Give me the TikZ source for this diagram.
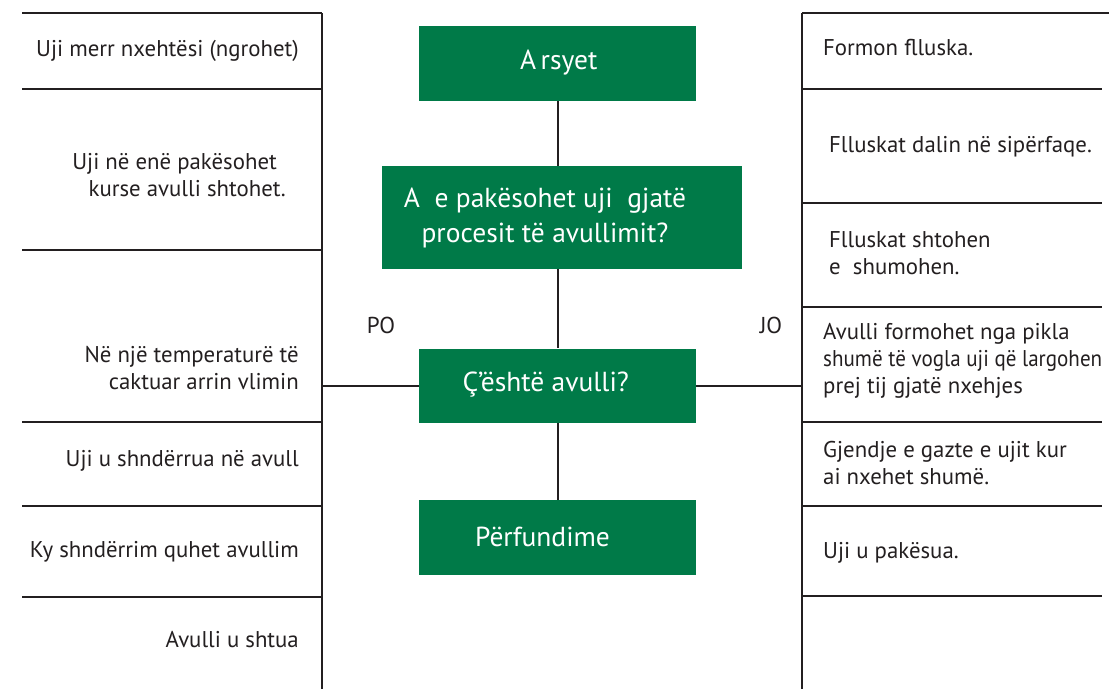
\documentclass[tikz,border=0pt]{standalone}
\usepackage{fontspec}
\usepackage{graphicx}
\setmainfont{PT Sans}
\definecolor{boxgreen}{RGB}{0,122,72}
\definecolor{ink}{RGB}{35,31,32}
\begin{document}
\begin{tikzpicture}[x=1pt,y=-1pt,
  rule/.style={draw=ink, line width=2pt},
  link/.style={draw=ink, line width=2pt},
  gbox/.style={fill=boxgreen, draw=none, inner sep=0pt},
  wtext/.style={text=white, inner sep=0pt, align=center, font=\fontsize{27.5}{35}\selectfont},
  ltext/.style={anchor=east, align=right, inner sep=0pt, text=ink, font=\fontsize{22.8}{26.8}\selectfont},
  rtext/.style={anchor=west, align=left, inner sep=0pt, text=ink, font=\fontsize{22.8}{26.8}\selectfont},
  ptext/.style={inner sep=0pt, text=ink, font=\fontsize{23}{26}\selectfont}]
\useasboundingbox (0,0) rectangle (1109,689);

% left column rules
\coordinate (lcol) at (322,0);
\draw[rule] (322,13) -- (322,689);
\foreach \yy in {13,89,250,422,506,597}
  \draw[rule] (22,\yy) -- (322,\yy);

% right column rules
\coordinate (rcol) at (802,0);
\draw[rule] (802,13) -- (802,689);
\draw[rule] (802,13) -- (1109,13);
\foreach \yy in {89,203,307,422,506,596}
  \draw[rule] (802,\yy) -- (1102,\yy);

% central flow boxes
\node[gbox, minimum width=277pt, minimum height=75pt] (b1) at (557.3,63.3) {};
\node[gbox, minimum width=360pt, minimum height=103pt] (b2) at (561.8,217.7) {};
\node[gbox, minimum width=277pt, minimum height=74pt] (b3) at (557.3,385.5) {};
\node[gbox, minimum width=277pt, minimum height=75pt] (b4) at (557.3,537.5) {};

\node[wtext] (t1) at (558.7,63) {A\,rsyet};
\node[wtext] (t2) at (545,218) {A\ \ e pakësohet uji\ \ gjatë\\procesit të avullimit?};
\node[wtext] (t3) at (545.7,385) {Ç’është avulli?};
\node[wtext] (t4) at (542.5,537) {Përfundime};

% connectors
\draw[link] (b1.south -| 558.3,0) -- (b2.north -| 558.3,0);
\draw[link] (b2.south -| 558.3,0) -- (b3.north -| 558.3,0);
\draw[link] (b3.south -| 558.3,0) -- (b4.north -| 558.3,0);
\draw[link] (b3.west) -- (b3.west -| lcol);
\draw[link] (b3.east) -- (b3.east -| rcol);

\node[ptext] (po) at (381,325) {PO};
\node[ptext] (jo) at (771,325) {JO};

% left column texts
\node[ltext] (l1) at (299,51) {Uji merr nxehtësi (ngrohet)};
\node[ltext] (l2) at (286,175) {Uji në enë pakësohet\hspace*{9pt}\\kurse avulli shtohet.};
\node[ltext] (l3) at (299,368) {Në një temperaturë të\\caktuar arrin vlimin};
\node[ltext] (l4) at (299,461) {Uji u shndërrua në avull};
\node[ltext] (l5) at (299,552) {Ky shndërrim quhet avullim};
\node[ltext] (l6) at (299,640) {Avulli u shtua};

% right column texts
\node[rtext] (r1) at (823,48) {Formon flluska.};
\node[rtext] (r2) at (829,147) {Flluskat dalin në sipërfaqe.};
\node[rtext] (r3) at (829,253) {Flluskat shtohen\\e\ \ shumohen.};
\node[rtext] (r4) at (823,361) {Avulli formohet nga pikla\\\resizebox{279pt}{\height}{shumë të vogla uji që largohen}\\prej tij gjatë nxehjes};
\node[rtext] (r5) at (823,463) {Gjendje e gazte e ujit kur\\ai nxehet shumë.};
\node[rtext] (r6) at (823,553) {Uji u pakësua.};
\end{tikzpicture}
\end{document}
